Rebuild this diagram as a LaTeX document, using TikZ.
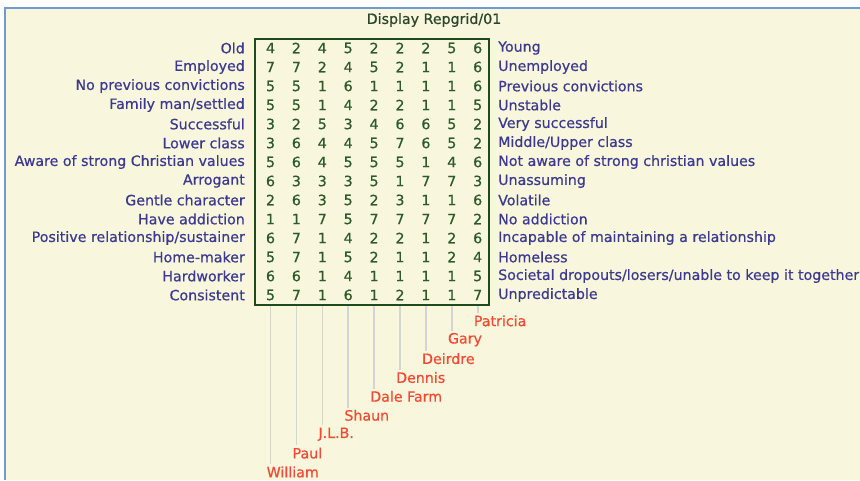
\documentclass[tikz,border=0pt]{standalone}
\usepackage{fontspec}
\setmainfont[FakeBold=0.6]{DejaVu Sans}
\definecolor{bgc}{HTML}{F8F6DC}
\definecolor{frame}{HTML}{6E9CCF}
\definecolor{lbl}{HTML}{3C3A8E}
\definecolor{num}{HTML}{2C5A2C}
\definecolor{boxc}{HTML}{1E4A1E}
\definecolor{elc}{HTML}{F04A34}
\definecolor{ttl}{HTML}{2A452A}
\definecolor{stem}{HTML}{D4D4D0}
\tikzset{
  txt/.style={inner sep=0pt,font=\fontsize{14.2}{16}\selectfont},
  lft/.style={txt,anchor=east,text=lbl},
  rgt/.style={txt,anchor=west,text=lbl},
  numc/.style={txt,anchor=center,text=num},
  elem/.style={txt,anchor=west,text=elc},
  stemline/.style={draw=stem,line width=1.6pt},
}
\begin{document}
\begin{tikzpicture}[x=1pt,y=-1pt]
\useasboundingbox (0,0) rectangle (860,480);
\fill[white] (0,0) rectangle (860,480);
\fill[bgc] (4,7) rectangle (860,480);
\draw[frame,line width=2pt] (5,480) -- (5,8) -- (860,8);
\node[txt,text=ttl] (title) at (434,20) {Display Repgrid/01};
\node[draw=boxc,line width=2pt,inner sep=0pt,minimum width=234pt,minimum height=266pt] (grid) at (372,172) {};
\foreach \l [count=\i] in {Old,Employed,No previous convictions,Family man/settled,Successful,Lower class,Aware of strong Christian values,Arrogant,Gentle character,Have addiction,Positive relationship/sustainer,Home-maker,Hardworker,Consistent}
  \node[lft] (L\i) at (245,{48+19*(\i-1)}) {\l};
\foreach \l [count=\i] in {Young,Unemployed,Previous convictions,Unstable,Very successful,Middle/Upper class,Not aware of strong christian values,Unassuming,Volatile,No addiction,Incapable of maintaining a relationship,Homeless,Societal dropouts/losers/unable to keep it together,Unpredictable}
  \node[rgt] (R\i) at (498,{48+19*(\i-1)}) {\l};
\foreach \row [count=\i] in {
 {4,2,4,5,2,2,2,5,6},
 {7,7,2,4,5,2,1,1,6},
 {5,5,1,6,1,1,1,1,6},
 {5,5,1,4,2,2,1,1,5},
 {3,2,5,3,4,6,6,5,2},
 {3,6,4,4,5,7,6,5,2},
 {5,6,4,5,5,5,1,4,6},
 {6,3,3,3,5,1,7,7,3},
 {2,6,3,5,2,3,1,1,6},
 {1,1,7,5,7,7,7,7,2},
 {6,7,1,4,2,2,1,2,6},
 {5,7,1,5,2,1,1,2,4},
 {6,6,1,4,1,1,1,1,5},
 {5,7,1,6,1,2,1,1,7}}
 \foreach \v [count=\j] in \row
   \node[numc] (n\i-\j) at ({270.5+25.9*(\j-1)},{48+19*(\i-1)}) {\v};
\foreach \e [count=\j] in {William,Paul,J.L.B.,Shaun,Dale Farm,Dennis,Deirdre,Gary,Patricia}{
  \coordinate (t\j) at ({270.5+25.9*(\j-1)},306);
  \node[elem] (e\j) at ({266.5+25.9*(\j-1)},{472-18.9*(\j-1)}) {\e};
  \draw[stemline] (t\j) -- ([yshift=2pt]t\j |- e\j.north);
}
\end{tikzpicture}
\end{document}
